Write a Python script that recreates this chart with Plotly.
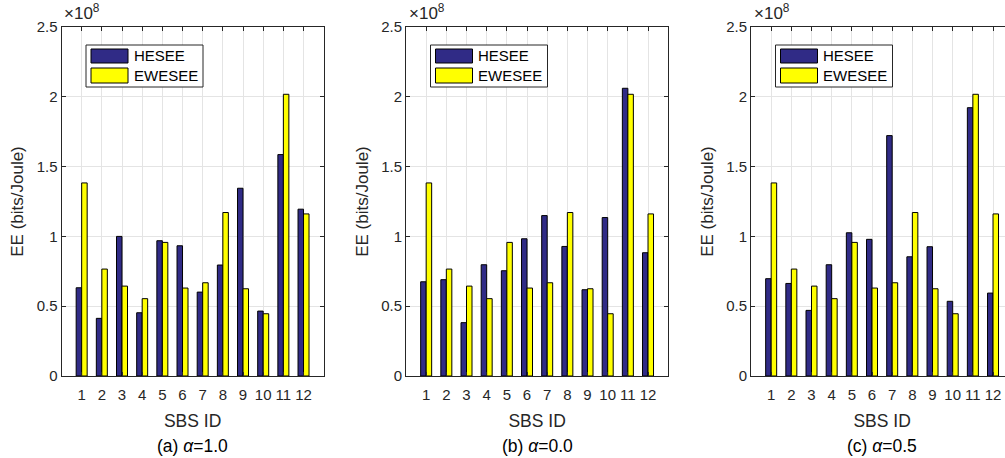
import plotly.graph_objects as go

# ---------------- data (EE in units of 1e8 bits/Joule) ----------------
sbs_ids = list(range(1, 13))
x_tick_labels = [str(i) for i in sbs_ids]
y_tick_vals = [0, 0.5, 1, 1.5, 2, 2.5]
y_tick_labels = ["0", "0.5", "1", "1.5", "2", "2.5"]
series_names = ["HESEE", "EWESEE"]

ewesee = [1.383, 0.766, 0.644, 0.554, 0.957, 0.630, 0.668, 1.171, 0.625, 0.446, 2.018, 1.161]
hesee_a = [0.632, 0.413, 1.000, 0.453, 0.969, 0.933, 0.601, 0.795, 1.345, 0.465, 1.586, 1.195]
hesee_b = [0.675, 0.690, 0.382, 0.797, 0.754, 0.983, 1.149, 0.928, 0.618, 1.135, 2.061, 0.883]
hesee_c = [0.697, 0.663, 0.470, 0.797, 1.026, 0.979, 1.722, 0.854, 0.926, 0.535, 1.922, 0.594]
captions = ["(a) <i>α</i>=1.0", "(b) <i>α</i>=0.0", "(c) <i>α</i>=0.5"]
x_title = "SBS ID"
y_title = "EE (bits/Joule)"
exponent_label = "×10<sup>8</sup>"

# ---------------- styling / geometry ----------------
W, H = 1030, 458
FONT = "Liberation Sans, Arial, Helvetica, sans-serif"
BLUE = "rgb(48,43,134)"
YELLOW = "rgb(255,255,0)"
AX = "#262626"
GRID = "#e4e4e4"
panel_left = [61.5, 406.0, 751.0]
panel_w = 262.2
top_px, bot_px = 27.0, 376.0


def px(x):
    return x / W


def py(y):
    return 1 - y / H


fig = go.Figure()
hesee_all = [hesee_a, hesee_b, hesee_c]
for i in range(3):
    sfx = "" if i == 0 else str(i + 1)
    fig.add_trace(go.Bar(x=sbs_ids, y=hesee_all[i], name=series_names[0],
                         marker=dict(color=BLUE, line=dict(color="black", width=1)),
                         xaxis="x" + sfx, yaxis="y" + sfx, showlegend=False))
    fig.add_trace(go.Bar(x=sbs_ids, y=ewesee, name=series_names[1],
                         marker=dict(color=YELLOW, line=dict(color="black", width=1)),
                         xaxis="x" + sfx, yaxis="y" + sfx, showlegend=False))

axis_common = dict(showline=True, linecolor=AX, linewidth=1, mirror="ticks",
                   ticks="inside", ticklen=4, tickcolor=AX, tickwidth=1,
                   showgrid=True, gridcolor=GRID, gridwidth=1, zeroline=False,
                   automargin=False,
                   tickfont=dict(family=FONT, size=15, color=AX))

layout = dict(width=W, height=H, margin=dict(l=0, r=0, t=0, b=0, autoexpand=False),
              paper_bgcolor="white", plot_bgcolor="white",
              barmode="group", bargap=0.455, bargroupgap=0.0,
              font=dict(family=FONT, color=AX), showlegend=False)

shapes = []
annotations = []
for i in range(3):
    sfx = "" if i == 0 else str(i + 1)
    L = panel_left[i]
    layout["xaxis" + sfx] = dict(axis_common, domain=[px(L), px(L + panel_w)],
                                 range=[0, 13], tickvals=sbs_ids, ticktext=x_tick_labels,
                                 ticklabelstandoff=5, anchor="y" + sfx,
                                 title=dict(text=x_title, standoff=12,
                                            font=dict(family=FONT, size=17.5, color=AX)))
    layout["yaxis" + sfx] = dict(axis_common, domain=[py(bot_px), py(top_px)],
                                 range=[0, 2.5], tickvals=y_tick_vals, ticktext=y_tick_labels,
                                 anchor="x" + sfx,
                                 title=dict(text=y_title, standoff=8,
                                            font=dict(family=FONT, size=17, color=AX)))
    cx = L + panel_w / 2
    # exponent label
    annotations.append(dict(text=exponent_label, x=px(L + 0.5), y=py(25), xref="paper", yref="paper",
                            xanchor="left", yanchor="bottom", showarrow=False,
                            font=dict(family=FONT, size=17, color=AX)))
    # caption
    annotations.append(dict(text=captions[i], x=px(cx), y=py(446), xref="paper", yref="paper",
                            xanchor="center", yanchor="middle", showarrow=False,
                            font=dict(family=FONT, size=17.5, color="black")))
    # legend (drawn)
    shapes.append(dict(type="rect", xref="paper", yref="paper",
                       x0=px(L + 24.5), x1=px(L + 141.5), y0=py(87), y1=py(45),
                       line=dict(color=AX, width=1), fillcolor="white"))
    shapes.append(dict(type="rect", xref="paper", yref="paper",
                       x0=px(L + 29.5), x1=px(L + 66.5), y0=py(63), y1=py(49),
                       line=dict(color="black", width=1), fillcolor=BLUE))
    shapes.append(dict(type="rect", xref="paper", yref="paper",
                       x0=px(L + 29.5), x1=px(L + 66.5), y0=py(83), y1=py(68),
                       line=dict(color="black", width=1), fillcolor=YELLOW))
    for name, yc in zip(series_names, [56, 75.5]):
        annotations.append(dict(text=name, x=px(L + 70), y=py(yc), xref="paper", yref="paper",
                                xanchor="left", yanchor="middle", showarrow=False,
                                font=dict(family=FONT, size=15, color="black")))

layout["shapes"] = shapes
layout["annotations"] = annotations
fig.update_layout(**layout)

fig.write_html("out.html", config={"displayModeBar": False},
               post_script="document.body.style.margin='0';document.body.style.overflow='hidden';")
